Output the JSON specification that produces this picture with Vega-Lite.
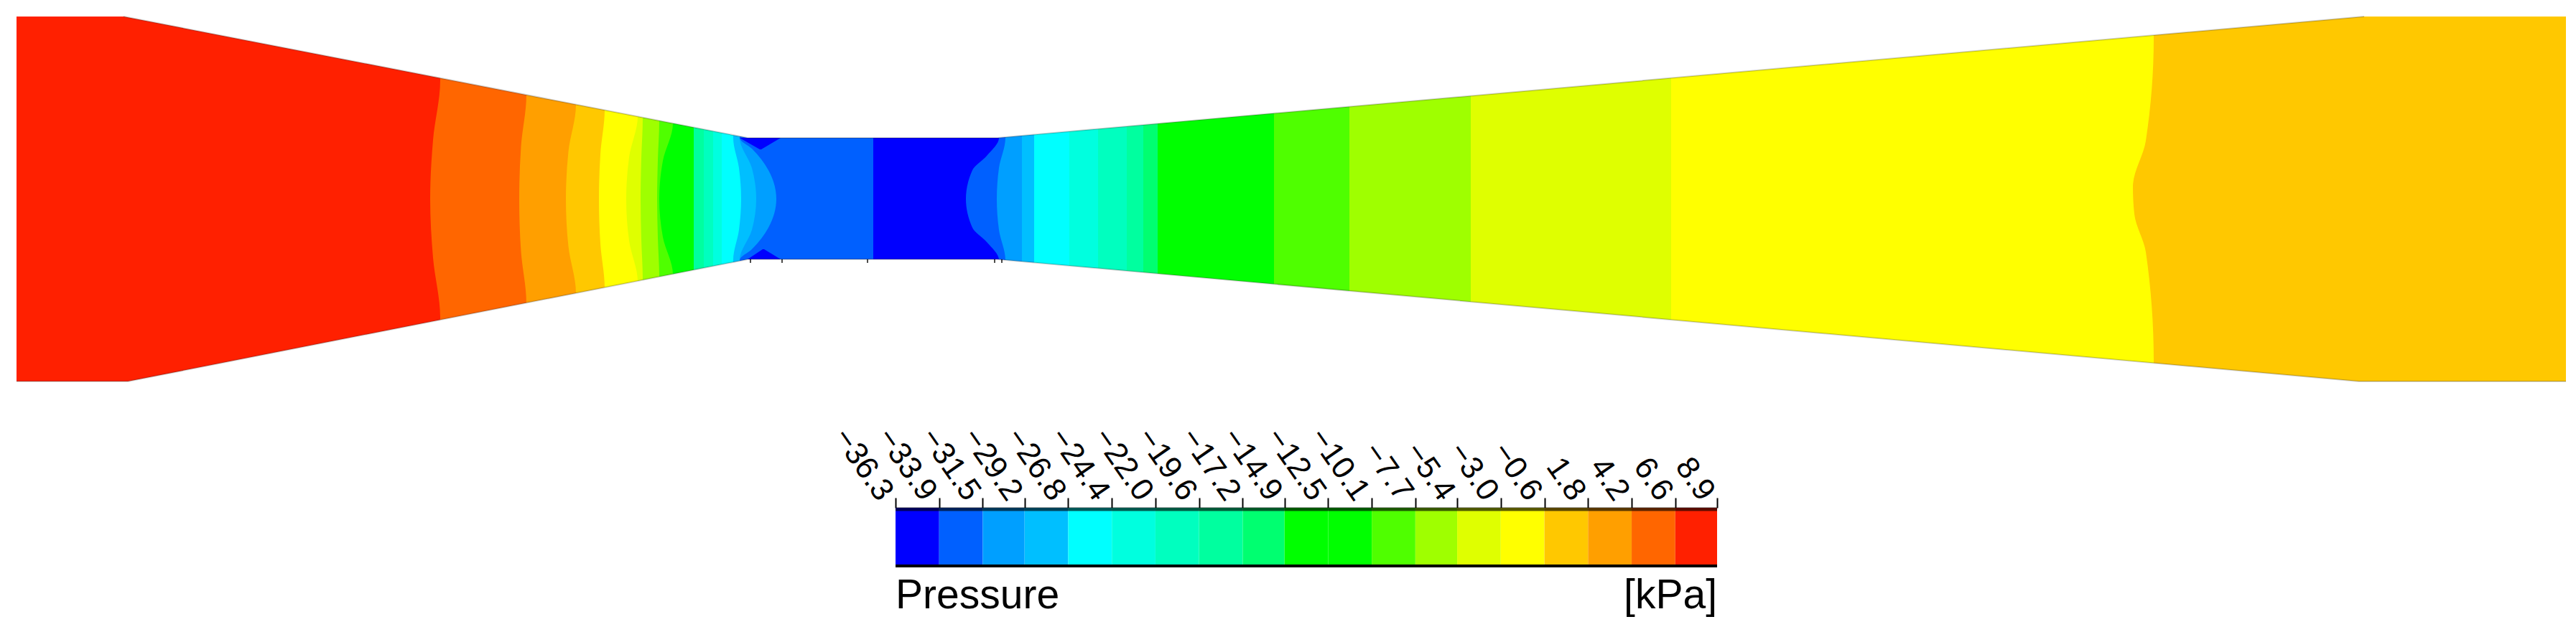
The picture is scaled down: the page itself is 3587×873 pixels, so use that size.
{
"$schema":"https://vega.github.io/schema/vega-lite/v6.json",
"width":3587,"height":873,"padding":0,"autosize":{"type":"none"},"background":"white",
"config":{"view":{"stroke":null},"font":"Liberation Sans"},
"datasets":{
"bands":[
{"b":0,"p":6.6,"y":23,"x":23},{"b":0,"p":6.6,"y":531,"x":23},
{"b":1,"p":4.2,"y":23,"x":613},{"b":1,"p":4.2,"y":112,"x":613},{"b":1,"p":4.2,"y":195,"x":603},{"b":1,"p":4.2,"y":277,"x":599},{"b":1,"p":4.2,"y":359,"x":603},{"b":1,"p":4.2,"y":442,"x":613},{"b":1,"p":4.2,"y":531,"x":613},
{"b":2,"p":1.8,"y":23,"x":733},{"b":2,"p":1.8,"y":132,"x":733},{"b":2,"p":1.8,"y":204,"x":725.5},{"b":2,"p":1.8,"y":277,"x":723},{"b":2,"p":1.8,"y":350,"x":725.5},{"b":2,"p":1.8,"y":422,"x":733},{"b":2,"p":1.8,"y":531,"x":733},
{"b":3,"p":-0.6,"y":23,"x":802},{"b":3,"p":-0.6,"y":146,"x":802},{"b":3,"p":-0.6,"y":211,"x":791.5},{"b":3,"p":-0.6,"y":277,"x":788},{"b":3,"p":-0.6,"y":343,"x":791.5},{"b":3,"p":-0.6,"y":408,"x":802},{"b":3,"p":-0.6,"y":531,"x":802},
{"b":4,"p":-3.0,"y":23,"x":842},{"b":4,"p":-3.0,"y":153,"x":842},{"b":4,"p":-3.0,"y":215,"x":836},{"b":4,"p":-3.0,"y":277,"x":834},{"b":4,"p":-3.0,"y":339,"x":836},{"b":4,"p":-3.0,"y":401,"x":842},{"b":4,"p":-3.0,"y":531,"x":842},
{"b":5,"p":-5.4,"y":23,"x":888},{"b":5,"p":-5.4,"y":162,"x":888},{"b":5,"p":-5.4,"y":219,"x":876},{"b":5,"p":-5.4,"y":277,"x":872},{"b":5,"p":-5.4,"y":335,"x":876},{"b":5,"p":-5.4,"y":392,"x":888},{"b":5,"p":-5.4,"y":531,"x":888},
{"b":6,"p":-7.7,"y":23,"x":895},{"b":6,"p":-7.7,"y":165,"x":895},{"b":6,"p":-7.7,"y":221,"x":893},{"b":6,"p":-7.7,"y":277,"x":892},{"b":6,"p":-7.7,"y":333,"x":893},{"b":6,"p":-7.7,"y":389,"x":895},{"b":6,"p":-7.7,"y":531,"x":895},
{"b":7,"p":-10.1,"y":23,"x":918},{"b":7,"p":-10.1,"y":169,"x":918},{"b":7,"p":-10.1,"y":223,"x":916},{"b":7,"p":-10.1,"y":277,"x":915},{"b":7,"p":-10.1,"y":331,"x":916},{"b":7,"p":-10.1,"y":385,"x":918},{"b":7,"p":-10.1,"y":531,"x":918},
{"b":8,"p":-14.9,"y":23,"x":937},{"b":8,"p":-14.9,"y":172,"x":937},{"b":8,"p":-14.9,"y":224,"x":923},{"b":8,"p":-14.9,"y":277,"x":918},{"b":8,"p":-14.9,"y":330,"x":923},{"b":8,"p":-14.9,"y":382,"x":937},{"b":8,"p":-14.9,"y":531,"x":937},
{"b":9,"p":-19.6,"y":23,"x":966},{"b":9,"p":-19.6,"y":531,"x":966},
{"b":10,"p":-22.0,"y":23,"x":980},{"b":10,"p":-22.0,"y":531,"x":980},
{"b":11,"p":-24.4,"y":23,"x":993},{"b":11,"p":-24.4,"y":531,"x":993},
{"b":12,"p":-26.8,"y":23,"x":1005},{"b":12,"p":-26.8,"y":531,"x":1005},
{"b":13,"p":-29.2,"y":23,"x":1021},{"b":13,"p":-29.2,"y":192,"x":1021},{"b":13,"p":-29.2,"y":234,"x":1029},{"b":13,"p":-29.2,"y":277,"x":1032},{"b":13,"p":-29.2,"y":320,"x":1029},{"b":13,"p":-29.2,"y":362,"x":1021},{"b":13,"p":-29.2,"y":531,"x":1021},
{"b":14,"p":-31.5,"y":23,"x":1030},{"b":14,"p":-31.5,"y":192,"x":1030},{"b":14,"p":-31.5,"y":234,"x":1047},{"b":14,"p":-31.5,"y":277,"x":1053},{"b":14,"p":-31.5,"y":320,"x":1047},{"b":14,"p":-31.5,"y":362,"x":1030},{"b":14,"p":-31.5,"y":531,"x":1030},
{"b":15,"p":-33.9,"y":23,"x":1030},{"b":15,"p":-33.9,"y":192,"x":1030},{"b":15,"p":-33.9,"y":207,"x":1047},{"b":15,"p":-33.9,"y":237,"x":1070},{"b":15,"p":-33.9,"y":277,"x":1081},{"b":15,"p":-33.9,"y":317,"x":1070},{"b":15,"p":-33.9,"y":347,"x":1047},{"b":15,"p":-33.9,"y":362,"x":1030},{"b":15,"p":-33.9,"y":531,"x":1030},
{"b":16,"p":-36.3,"y":23,"x":1216},{"b":16,"p":-36.3,"y":531,"x":1216},
{"b":17,"p":-33.9,"y":23,"x":1391},{"b":17,"p":-33.9,"y":192,"x":1391},{"b":17,"p":-33.9,"y":217,"x":1374},{"b":17,"p":-33.9,"y":237,"x":1354},{"b":17,"p":-33.9,"y":277,"x":1345},{"b":17,"p":-33.9,"y":317,"x":1354},{"b":17,"p":-33.9,"y":337,"x":1374},{"b":17,"p":-33.9,"y":362,"x":1391},{"b":17,"p":-33.9,"y":531,"x":1391},
{"b":18,"p":-31.5,"y":23,"x":1400},{"b":18,"p":-31.5,"y":192,"x":1400},{"b":18,"p":-31.5,"y":234,"x":1391},{"b":18,"p":-31.5,"y":277,"x":1388},{"b":18,"p":-31.5,"y":320,"x":1391},{"b":18,"p":-31.5,"y":362,"x":1400},{"b":18,"p":-31.5,"y":531,"x":1400},
{"b":19,"p":-29.2,"y":23,"x":1423},{"b":19,"p":-29.2,"y":531,"x":1423},
{"b":20,"p":-26.8,"y":23,"x":1440},{"b":20,"p":-26.8,"y":531,"x":1440},
{"b":21,"p":-24.4,"y":23,"x":1489},{"b":21,"p":-24.4,"y":531,"x":1489},
{"b":22,"p":-22.0,"y":23,"x":1529},{"b":22,"p":-22.0,"y":531,"x":1529},
{"b":23,"p":-19.6,"y":23,"x":1569},{"b":23,"p":-19.6,"y":531,"x":1569},
{"b":24,"p":-17.2,"y":23,"x":1592},{"b":24,"p":-17.2,"y":531,"x":1592},
{"b":25,"p":-14.9,"y":23,"x":1612},{"b":25,"p":-14.9,"y":531,"x":1612},
{"b":26,"p":-10.1,"y":23,"x":1774},{"b":26,"p":-10.1,"y":531,"x":1774},
{"b":27,"p":-7.7,"y":23,"x":1879},{"b":27,"p":-7.7,"y":531,"x":1879},
{"b":28,"p":-5.4,"y":23,"x":2048},{"b":28,"p":-5.4,"y":531,"x":2048},
{"b":29,"p":-3.0,"y":23,"x":2327},{"b":29,"p":-3.0,"y":531,"x":2327},
{"b":30,"p":-0.6,"y":23,"x":2999},{"b":30,"p":-0.6,"y":53,"x":2999},{"b":30,"p":-0.6,"y":196,"x":2988},{"b":30,"p":-0.6,"y":260,"x":2970},{"b":30,"p":-0.6,"y":298,"x":2972},{"b":30,"p":-0.6,"y":351,"x":2988},{"b":30,"p":-0.6,"y":502,"x":2999},{"b":30,"p":-0.6,"y":531,"x":2999}
],
"spots":[
{"s":"top","p":-36.3,"y":192,"x":1030,"x2":1087},{"s":"top","p":-36.3,"y":208,"x":1058,"x2":1060},
{"s":"bottom","p":-36.3,"y":347,"x":1062,"x2":1064},{"s":"bottom","p":-36.3,"y":361,"x":1041,"x2":1087}
],
"topWall":[{"x":23,"y":23},{"x":172,"y":23},{"x":1041,"y":192},{"x":1389,"y":192},{"x":3292,"y":23},{"x":3573,"y":23}],
"bottomWall":[{"x":23,"y":531},{"x":178,"y":531},{"x":1041,"y":361},{"x":1389,"y":361},{"x":3285,"y":531},{"x":3573,"y":531}],
"edges":[
{"w":"t","o":1,"x":172,"y":23},{"w":"t","o":2,"x":1041,"y":192},{"w":"t","o":3,"x":1389,"y":192},{"w":"t","o":4,"x":3292,"y":23},
{"w":"b","o":1,"x":23,"y":531},{"w":"b","o":2,"x":178,"y":531},{"w":"b","o":3,"x":1041,"y":361},{"w":"b","o":4,"x":1389,"y":361},{"w":"b","o":5,"x":3285,"y":531},{"w":"b","o":6,"x":3573,"y":531}
],
"marks":[{"x":1045},{"x":1089},{"x":1208},{"x":1385},{"x":1395}],
"bar":[
{"p0":-36.3,"p1":-33.9},{"p0":-33.9,"p1":-31.5},{"p0":-31.5,"p1":-29.2},{"p0":-29.2,"p1":-26.8},{"p0":-26.8,"p1":-24.4},{"p0":-24.4,"p1":-22.0},{"p0":-22.0,"p1":-19.6},{"p0":-19.6,"p1":-17.2},{"p0":-17.2,"p1":-14.9},{"p0":-14.9,"p1":-12.5},{"p0":-12.5,"p1":-10.1},{"p0":-10.1,"p1":-7.7},{"p0":-7.7,"p1":-5.4},{"p0":-5.4,"p1":-3.0},{"p0":-3.0,"p1":-0.6},{"p0":-0.6,"p1":1.8},{"p0":1.8,"p1":4.2},{"p0":4.2,"p1":6.6},{"p0":6.6,"p1":8.9}
]
},
"resolve":{"scale":{"x":"independent"},"axis":{"x":"independent"}},
"layer":[
{"data":{"name":"bands"},"mark":{"type":"area","orient":"horizontal","interpolate":"monotone"},
 "encoding":{
  "x":{"field":"x","type":"quantitative","stack":null,"scale":{"domain":[0,3587],"range":[0,3587],"nice":false,"zero":false},"axis":null},
  "x2":{"datum":3573},
  "y":{"field":"y","type":"quantitative","scale":{"domain":[0,873],"reverse":true,"nice":false,"zero":false},"axis":null},
  "detail":{"field":"b"},
  "color":{"field":"p","type":"quantitative","legend":null,"scale":{"type":"threshold","domain":[-33.9,-31.5,-29.2,-26.8,-24.4,-22.0,-19.6,-17.2,-14.9,-12.5,-10.1,-7.7,-5.4,-3.0,-0.6,1.8,4.2,6.6],"range":["#0000ff","#0060ff","#009fff","#00bfff","#00ffff","#00ffdf","#00ffbf","#00ff9f","#00ff70","#00ff00","#00ff00","#4fff00","#9fff00","#dfff00","#ffff00","#ffc800","#ff9f00","#ff6600","#ff2000"]}}
 }},
{"data":{"name":"spots"},"mark":{"type":"area","orient":"horizontal"},
 "encoding":{
  "x":{"field":"x","type":"quantitative","stack":null,"scale":{"domain":[0,3587],"range":[0,3587],"nice":false,"zero":false},"axis":null},
  "x2":{"field":"x2"},
  "y":{"field":"y","type":"quantitative","scale":{"domain":[0,873],"reverse":true,"nice":false,"zero":false},"axis":null},
  "detail":{"field":"s"},
  "color":{"field":"p","type":"quantitative","legend":null,"scale":{"type":"threshold","domain":[-33.9,-31.5,-29.2,-26.8,-24.4,-22.0,-19.6,-17.2,-14.9,-12.5,-10.1,-7.7,-5.4,-3.0,-0.6,1.8,4.2,6.6],"range":["#0000ff","#0060ff","#009fff","#00bfff","#00ffff","#00ffdf","#00ffbf","#00ff9f","#00ff70","#00ff00","#00ff00","#4fff00","#9fff00","#dfff00","#ffff00","#ffc800","#ff9f00","#ff6600","#ff2000"]}}
 }},
{"data":{"name":"topWall"},"mark":{"type":"area","orient":"vertical","color":"white"},
 "encoding":{
  "x":{"field":"x","type":"quantitative","scale":{"domain":[0,3587],"range":[0,3587],"nice":false,"zero":false},"axis":null},
  "y":{"field":"y","type":"quantitative","stack":null,"scale":{"domain":[0,873],"reverse":true,"nice":false,"zero":false},"axis":null},
  "y2":{"datum":0}
 }},
{"data":{"name":"bottomWall"},"mark":{"type":"area","orient":"vertical","color":"white"},
 "encoding":{
  "x":{"field":"x","type":"quantitative","scale":{"domain":[0,3587],"range":[0,3587],"nice":false,"zero":false},"axis":null},
  "y":{"field":"y","type":"quantitative","stack":null,"scale":{"domain":[0,873],"reverse":true,"nice":false,"zero":false},"axis":null},
  "y2":{"datum":560}
 }},
{"data":{"name":"edges"},"mark":{"type":"line","color":"black","opacity":0.2,"strokeWidth":2},
 "encoding":{
  "x":{"field":"x","type":"quantitative","scale":{"domain":[0,3587],"range":[0,3587],"nice":false,"zero":false},"axis":null},
  "y":{"field":"y","type":"quantitative","scale":{"domain":[0,873],"reverse":true,"nice":false,"zero":false},"axis":null},
  "detail":{"field":"w"},
  "order":{"field":"o"}
 }},
{"data":{"name":"marks"},"mark":{"type":"rule","color":"black","strokeWidth":2,"opacity":0.7},
 "encoding":{
  "x":{"field":"x","type":"quantitative","scale":{"domain":[0,3587],"range":[0,3587],"nice":false,"zero":false},"axis":null},
  "y":{"datum":361,"scale":{"domain":[0,873],"reverse":true,"nice":false,"zero":false},"axis":null},
  "y2":{"datum":366}
 }},
{"data":{"name":"bar"},"mark":{"type":"rect"},
 "encoding":{
  "x":{"field":"p0","type":"quantitative","scale":{"domain":[-36.3,8.9],"range":[1247,2391],"nice":false,"zero":false},
   "axis":{"orient":"top","offset":-707,"title":null,"grid":false,"domain":false,"values":[-36.3,-33.9,-31.5,-29.2,-26.8,-24.4,-22.0,-19.6,-17.2,-14.9,-12.5,-10.1,-7.7,-5.4,-3.0,-0.6,1.8,4.2,6.6,8.9],"format":".1f","tickSize":14,"tickWidth":2,"tickColor":"black","labelAngle":55,"labelAlign":"right","labelBaseline":"middle","labelFontSize":44,"labelColor":"black","labelPadding":1,"labelOffset":-14,"labelOverlap":false,"labelFlush":false,"labelBound":false,"labelFont":"Liberation Sans"}},
  "x2":{"field":"p1"},
  "y":{"datum":707,"scale":{"domain":[0,873],"reverse":true,"nice":false,"zero":false},"axis":null},
  "y2":{"datum":787},
  "color":{"field":"p0","type":"quantitative","legend":null,"scale":{"type":"threshold","domain":[-33.9,-31.5,-29.2,-26.8,-24.4,-22.0,-19.6,-17.2,-14.9,-12.5,-10.1,-7.7,-5.4,-3.0,-0.6,1.8,4.2,6.6],"range":["#0000ff","#0060ff","#009fff","#00bfff","#00ffff","#00ffdf","#00ffbf","#00ff9f","#00ff70","#00ff00","#00ff00","#4fff00","#9fff00","#dfff00","#ffff00","#ffc800","#ff9f00","#ff6600","#ff2000"]}}
 }},
{"data":{"values":[{"p":-36.3,"e":8.9}]},"mark":{"type":"rule","color":"black","opacity":0.65,"strokeWidth":5},
 "encoding":{
  "x":{"field":"p","type":"quantitative","scale":{"domain":[-36.3,8.9],"range":[1247,2391],"nice":false,"zero":false},"axis":null},
  "x2":{"field":"e"},
  "y":{"datum":709,"scale":{"domain":[0,873],"reverse":true,"nice":false,"zero":false},"axis":null}
 }},
{"data":{"values":[{"p":-36.3,"e":8.9}]},"mark":{"type":"rule","color":"black","strokeWidth":4},
 "encoding":{
  "x":{"field":"p","type":"quantitative","scale":{"domain":[-36.3,8.9],"range":[1247,2391],"nice":false,"zero":false},"axis":null},
  "x2":{"field":"e"},
  "y":{"datum":788,"scale":{"domain":[0,873],"reverse":true,"nice":false,"zero":false},"axis":null}
 }},
{"data":{"values":[{"p":-36.3,"t":"Pressure"}]},"mark":{"type":"text","align":"left","baseline":"alphabetic","fontSize":57,"color":"black","font":"Liberation Sans"},
 "encoding":{
  "x":{"field":"p","type":"quantitative","scale":{"domain":[-36.3,8.9],"range":[1247,2391],"nice":false,"zero":false},"axis":null},
  "y":{"datum":847,"scale":{"domain":[0,873],"reverse":true,"nice":false,"zero":false},"axis":null},
  "text":{"field":"t"}
 }},
{"data":{"values":[{"p":8.9,"t":"[kPa]"}]},"mark":{"type":"text","align":"right","baseline":"alphabetic","fontSize":57,"color":"black","font":"Liberation Sans"},
 "encoding":{
  "x":{"field":"p","type":"quantitative","scale":{"domain":[-36.3,8.9],"range":[1247,2391],"nice":false,"zero":false},"axis":null},
  "y":{"datum":847,"scale":{"domain":[0,873],"reverse":true,"nice":false,"zero":false},"axis":null},
  "text":{"field":"t"}
 }}
]
}
